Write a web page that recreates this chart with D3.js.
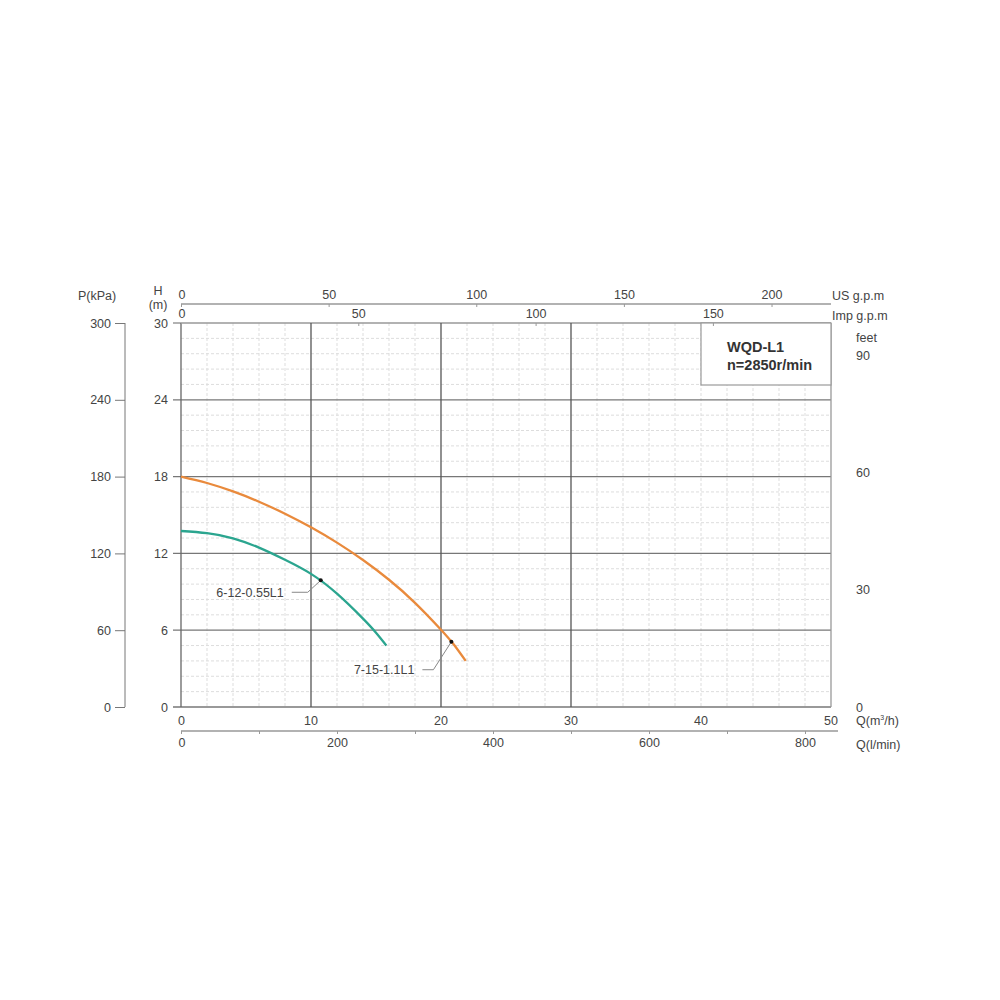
<!DOCTYPE html>
<html>
<head>
<meta charset="utf-8">
<script src="https://cdn.jsdelivr.net/npm/d3@7"></script>
<style>
  body { margin: 0; background: #fff; }
  text { font-family: "Liberation Sans", Arial, sans-serif; fill: #444; }
</style>
</head>
<body>
<div id="chart"></div>
<script>
var W = 1000, H = 1000,
    x0 = 181, x1 = 831,
    yTop = 323, yBot = 707,
    fs = "12.5px";

// data
var flowTicks = [0, 10, 20, 30, 40, 50];
var flowMajor = [10, 20, 30];
var headTicks = [0, 6, 12, 18, 24, 30];
var kpaTicks = [0, 60, 120, 180, 240, 300];
var feetTicks = [0, 30, 60, 90];
var usGpmTicks = [0, 50, 100, 150, 200];
var impGpmTicks = [0, 50, 100, 150];
var lminTicks = [0, 200, 400, 600, 800];
var lminMinor = [100, 300, 500, 700];

var pumpNames = ["6-12-0.55L1", "7-15-1.1L1"];
var qSmall = [0, 2, 4, 6, 8, 10, 12, 14, 15, 15.8];
var hSmall = [13.75, 13.58, 13.18, 12.45, 11.5, 10.4, 8.85, 6.9, 5.8, 4.8];
var qBig = [0, 2, 4, 6, 8, 10, 12, 14, 16, 18, 20, 21, 21.9];
var hBig = [18.0, 17.5, 16.84, 16.04, 15.1, 14.04, 12.84, 11.48, 9.94, 8.14, 6.04, 4.86, 3.6];
var markSmall = [10.75, 9.9];
var markBig = [20.8, 5.1];

var svg = d3.select("#chart").append("svg")
    .attr("width", W)
    .attr("height", H);

svg.append("rect").attr("width", W).attr("height", H).attr("fill", "#fff");

var x = d3.scaleLinear().domain([0, 50]).range([x0, x1]),
    y = d3.scaleLinear().domain([0, 30]).range([yBot, yTop]),
    xUs = d3.scaleLinear().domain([0, 50 / 0.227125]).range([x0, x1]),
    xImp = d3.scaleLinear().domain([0, 50 / 0.272765]).range([x0, x1]),
    xLmin = d3.scaleLinear().domain([0, 50 * 1000 / 60]).range([x0, x1]),
    yKpa = d3.scaleLinear().domain([0, 300]).range([yBot, yTop]),
    yFt = d3.scaleLinear().domain([0, 30 / 0.3048]).range([yBot, yTop]);

// minor grid
var g = svg.append("g");
g.selectAll(".vminor")
    .data(d3.range(2, 50, 2).filter(function (d) { return flowMajor.indexOf(d) < 0; }))
    .enter().append("line")
    .attr("x1", function (d) { return x(d); })
    .attr("x2", function (d) { return x(d); })
    .attr("y1", yTop).attr("y2", yBot)
    .attr("stroke", "#ddd").attr("stroke-width", 1)
    .attr("stroke-dasharray", "3,2");
g.selectAll(".hminor")
    .data(d3.range(1, 25).map(function (i) { return i * 1.2; }).filter(function (d, i) { return (i + 1) % 5 != 0; }))
    .enter().append("line")
    .attr("x1", x0).attr("x2", x1)
    .attr("y1", function (d) { return y(d); })
    .attr("y2", function (d) { return y(d); })
    .attr("stroke", "#ddd").attr("stroke-width", 1)
    .attr("stroke-dasharray", "3,2");

// major grid
g.selectAll(".hmajor")
    .data(headTicks)
    .enter().append("line")
    .attr("x1", x0 - 8).attr("x2", x1)
    .attr("y1", function (d) { return y(d); })
    .attr("y2", function (d) { return y(d); })
    .attr("stroke", function (d) { return d == 30 ? "#999" : "#777"; })
    .attr("stroke-width", 1.3);
g.selectAll(".vmajor")
    .data(flowMajor)
    .enter().append("line")
    .attr("x1", function (d) { return x(d); })
    .attr("x2", function (d) { return x(d); })
    .attr("y1", yTop).attr("y2", yBot)
    .attr("stroke", "#555").attr("stroke-width", 1.3);
g.append("line").attr("x1", x0).attr("x2", x0).attr("y1", yTop).attr("y2", yBot)
    .attr("stroke", "#666").attr("stroke-width", 1.3);
g.append("line").attr("x1", x1).attr("x2", x1).attr("y1", yTop).attr("y2", yBot)
    .attr("stroke", "#999").attr("stroke-width", 1.3);

// legend box
svg.append("rect")
    .attr("x", 701).attr("y", yTop).attr("width", x1 - 701).attr("height", 62)
    .attr("fill", "#fff").attr("stroke", "#999").attr("stroke-width", 1.2);
svg.append("text").attr("x", 727).attr("y", 352)
    .style("font-size", "14.5px").style("font-weight", "bold").style("fill", "#333")
    .text("WQD-L1");
svg.append("text").attr("x", 727).attr("y", 370)
    .style("font-size", "14.5px").style("font-weight", "bold").style("fill", "#333")
    .text("n=2850r/min");

// H labels
svg.selectAll(".hlab")
    .data(headTicks)
    .enter().append("text")
    .attr("x", 168)
    .attr("y", function (d) { return y(d) + 4.5; })
    .attr("text-anchor", "end")
    .style("font-size", fs)
    .text(function (d) { return d; });
svg.append("text").attr("x", 158).attr("y", 295).attr("text-anchor", "middle")
    .style("font-size", fs).text("H");
svg.append("text").attr("x", 158).attr("y", 309).attr("text-anchor", "middle")
    .style("font-size", fs).text("(m)");

// kPa axis
var kpaAxis = d3.axisLeft(yKpa).tickValues(kpaTicks).tickSize(10).tickPadding(4);
var ka = svg.append("g").attr("transform", "translate(125,0)").call(kpaAxis);
ka.select(".domain").attr("stroke", "#777").attr("d", "M0," + yTop + "V" + yBot);
ka.selectAll(".tick line").attr("stroke", "#777");
ka.selectAll(".tick text").style("font-size", fs).style("font-family", "Liberation Sans, Arial, sans-serif").attr("fill", "#444");
svg.append("text").attr("x", 97).attr("y", 300).attr("text-anchor", "middle")
    .style("font-size", fs).text("P(kPa)");

// feet labels
svg.selectAll(".ftlab")
    .data(feetTicks)
    .enter().append("text")
    .attr("x", 856)
    .attr("y", function (d) { return yFt(d) + 4.5; })
    .style("font-size", fs)
    .text(function (d) { return d; });
svg.append("text").attr("x", 856).attr("y", 342).style("font-size", fs).text("feet");

// US gpm axis
var usAxis = d3.axisTop(xUs).tickValues(usGpmTicks).tickSize(-3).tickPadding(5);
var ua = svg.append("g").attr("transform", "translate(0,304)").call(usAxis);
ua.select(".domain").attr("stroke", "#999").attr("stroke-width", 1.3).attr("d", "M" + x0 + ",0H" + x1);
ua.selectAll(".tick line").attr("stroke", "#999");
ua.selectAll(".tick text").style("font-size", fs).style("font-family", "Liberation Sans, Arial, sans-serif").attr("fill", "#444").attr("y", -5);
ua.selectAll(".tick text").filter(function (d) { return d == 0; }).attr("text-anchor", "start").attr("dx", -3);
svg.append("text").attr("x", 832).attr("y", 300).style("font-size", fs).text("US g.p.m");

// Imp gpm axis
var impAxis = d3.axisTop(xImp).tickValues(impGpmTicks).tickSize(-3).tickPadding(5);
var ia = svg.append("g").attr("transform", "translate(0," + yTop + ")").call(impAxis);
ia.select(".domain").remove();
ia.selectAll(".tick line").attr("stroke", "#999");
ia.selectAll(".tick text").style("font-size", fs).style("font-family", "Liberation Sans, Arial, sans-serif").attr("fill", "#444").attr("y", -5);
ia.selectAll(".tick text").filter(function (d) { return d == 0; }).attr("text-anchor", "start").attr("dx", -3);
svg.append("text").attr("x", 832).attr("y", 320).style("font-size", fs).text("Imp g.p.m");

// Q m3/h labels
svg.selectAll(".qlab")
    .data(flowTicks)
    .enter().append("text")
    .attr("x", function (d) { return x(d); })
    .attr("y", 725)
    .attr("text-anchor", function (d) { return d == 0 ? "start" : "middle"; })
    .attr("dx", function (d) { return d == 0 ? -3 : 0; })
    .style("font-size", fs)
    .text(function (d) { return d; });
var qt = svg.append("text").attr("x", 856).attr("y", 725).style("font-size", fs);
qt.append("tspan").text("Q(m");
qt.append("tspan").attr("dy", -5).style("font-size", "7px").text("3");
qt.append("tspan").attr("dy", 5).text("/h)");

// Q l/min axis
var lAxis = d3.axisBottom(xLmin).tickValues(lminTicks.concat(lminMinor)).tickSize(3).tickPadding(5)
    .tickFormat(function (d) { return lminTicks.indexOf(d) >= 0 ? d : ""; });
var la = svg.append("g").attr("transform", "translate(0,731)").call(lAxis);
la.select(".domain").attr("stroke", "#999").attr("stroke-width", 1.3).attr("d", "M" + x0 + ",0H" + 838);
la.selectAll(".tick line").attr("stroke", "#999");
la.selectAll(".tick text").style("font-size", fs).style("font-family", "Liberation Sans, Arial, sans-serif").attr("fill", "#444").attr("y", 7);
la.selectAll(".tick text").filter(function (d) { return d == 0; }).attr("text-anchor", "start").attr("dx", -3);
svg.append("text").attr("x", 856).attr("y", 749).style("font-size", fs).text("Q(l/min)");

// curves
var line = d3.line()
    .x(function (d) { return x(d[0]); })
    .y(function (d) { return y(d[1]); })
    .curve(d3.curveNatural);

svg.append("path")
    .datum(d3.zip(qBig, hBig))
    .attr("d", line)
    .attr("fill", "none").attr("stroke", "#e98a3c").attr("stroke-width", 2.3);
svg.append("path")
    .datum(d3.zip(qSmall, hSmall))
    .attr("d", line)
    .attr("fill", "none").attr("stroke", "#2ba58f").attr("stroke-width", 2.3);

// annotations
function annotate(pt, name, dx, dy, run) {
    var px = x(pt[0]), py = y(pt[1]);
    var ex = px - dx, ey = py + dy;
    svg.append("path")
        .attr("d", "M" + px + "," + py + "L" + ex + "," + ey + "H" + (ex - run))
        .attr("fill", "none").attr("stroke", "#888").attr("stroke-width", 1);
    svg.append("circle").attr("cx", px).attr("cy", py).attr("r", 2).attr("fill", "#111");
    svg.append("text")
        .attr("x", ex - run - 8).attr("y", ey + 4.5)
        .attr("text-anchor", "end")
        .style("font-size", fs)
        .text(name);
}
annotate(markSmall, pumpNames[0], 13, 12, 16);
annotate(markBig, pumpNames[1], 18, 28, 11);
</script>
</body>
</html>
